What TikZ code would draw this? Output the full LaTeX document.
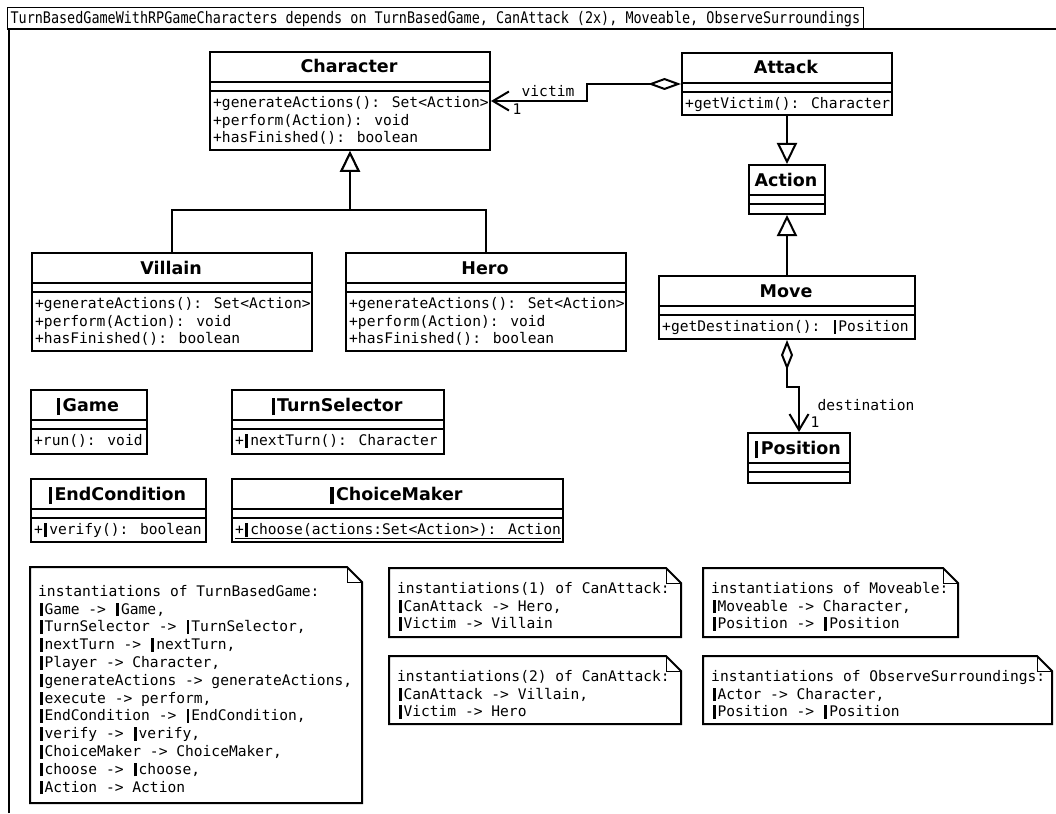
\documentclass[tikz,border=0pt]{standalone}
\usepackage{fontspec}
\setmainfont{DejaVu Sans}
\newfontfamily\monofont{DejaVu Sans Mono}
\newfontfamily\headmono[FakeStretch=0.84]{DejaVu Sans Mono}
\usetikzlibrary{arrows.meta}

% thick parameter marks in front of template names
\newcommand\parmark{\kern1.5pt\rule[-2pt]{2.8pt}{13.5pt}\kern2pt}
\newcommand\parmarkB{\rule[-4pt]{3.2pt}{17pt}\kern2.5pt}

\tikzset{
  umlbox/.style={draw, line width=2pt, inner sep=0pt, anchor=north west},
  compart/.style={line width=2pt},
  cname/.style={font=\fontsize{17.5}{20}\selectfont\bfseries, anchor=base, inner sep=0pt},
  members/.style={font=\monofont\fontsize{14.6}{17.8}\selectfont, align=left,
    anchor=north west, inner sep=0pt},
  lbl/.style={font=\monofont\fontsize{14.6}{17.8}\selectfont, inner sep=0pt},
  conn/.style={line width=2pt},
  gen/.style={conn, -{Triangle[open, length=21pt, width=20pt, fill=white]}},
  agg/.style={conn, {Diamond[open, length=33pt, width=12pt, fill=white]}-{Straight Barb[length=16pt, width=19pt]}},
  notebox/.style={line width=2pt, line join=miter},
  notefold/.style={line width=1pt},
}

% class box: name, x1, y1, x2, y2, title
\newcommand\umlclass[6]{%
  \node[umlbox, minimum width=#4-#2, minimum height=#5-#3] (#1) at (#2,#3) {};
  \draw[compart] (#2,#3+31) -- (#4,#3+31) (#2,#3+40) -- (#4,#3+40);
  \node[cname] (#1-name) at ({(#2+#4)/2},#3+22) {#6};
}
% operations compartment: name, x1, y1, text
\newcommand\umlops[4]{%
  \node[members] (#1-ops) at (#2+4,#3+45) {#4};
}
% note with folded corner: name, x1, y1, x2, y2, text offset, text
\newcommand\umlnote[7]{%
  \node[inner sep=0pt, anchor=north west, minimum width=#4-#2, minimum height=#5-#3] (#1) at (#2,#3) {};
  \draw[notebox] (#2,#3) -- (#4-15,#3) -- (#4,#3+15) -- (#4,#5) -- (#2,#5) -- cycle;
  \draw[notefold] (#4-15,#3) -- (#4-15,#3+15) -- (#4,#3+15);
  \node[members] (#1-text) at (#2+8,#3+#6) {#7};
}

\begin{document}
\begin{tikzpicture}[x=1pt, y=-1pt]
\fill[white] (0,0) rectangle (1056,813);
\useasboundingbox (0,0) rectangle (1056,813);

% package frame and its tab
\draw[line width=2pt] (9,813) -- (9,29) -- (1056,29);
\node[draw, line width=1.2pt, anchor=north west, inner xsep=3pt, inner ysep=0pt,
  minimum height=22pt, font=\headmono\fontsize{16}{18}\selectfont] (pkgtab) at (7,7)
  {TurnBasedGameWithRPGameCharacters depends on TurnBasedGame, CanAttack (2x), Moveable, ObserveSurroundings};

% classes
\umlclass{character}{209}{51}{489}{149}{Character}
\umlops{character}{209}{51}{+generateActions(): Set<Action>\\+perform(Action): void\\+hasFinished(): boolean}

\umlclass{attack}{681}{52}{891}{114}{Attack}
\umlops{attack}{681}{52}{+getVictim(): Character}

\umlclass{action}{748}{164}{824}{213}{Action}

\umlclass{move}{658}{275}{914}{338}{Move}
\umlops{move}{658}{275}{+getDestination(): \parmark Position}

\umlclass{position}{747}{432}{849}{482}{\parmarkB Position}

\umlclass{villain}{31}{252}{311}{350}{Villain}
\umlops{villain}{31}{252}{+generateActions(): Set<Action>\\+perform(Action): void\\+hasFinished(): boolean}

\umlclass{hero}{345}{252}{625}{350}{Hero}
\umlops{hero}{345}{252}{+generateActions(): Set<Action>\\+perform(Action): void\\+hasFinished(): boolean}

\umlclass{game}{30}{389}{146}{453}{\parmarkB Game}
\umlops{game}{30}{389}{+run(): void}

\umlclass{turnsel}{231}{389}{443}{453}{\parmarkB TurnSelector}
\umlops{turnsel}{231}{389}{+\parmark nextTurn(): Character}

\umlclass{endcond}{30}{478}{205}{541}{\parmarkB EndCondition}
\umlops{endcond}{30}{478}{+\parmark verify(): boolean}

\umlclass{choice}{231}{478}{562}{541}{\parmarkB ChoiceMaker}
\umlops{choice}{231}{478}{\underline{+\parmark choose(actions:Set<Action>): Action}}

% relationships
\draw[gen] (villain.north) -- ++(0,-42) -| (character.south);
\draw[gen] (hero.north) -- ++(0,-42) -| (character.south);
\draw[gen] (attack.south) -- (action.north);
\draw[gen] (move.north) -- (action.south);

\draw[agg] (attack.west) -- ++(-94,0) |- (character.east);
\node[lbl] (victim-role) at (548,91) {victim};
\node[lbl] (victim-mult) at (517,109) {1};

\draw[agg, {Diamond[open, length=30pt, width=12pt, fill=white]}-{Straight Barb[length=16pt, width=19pt]}]
  (move.south) -- ++(0,47) -| (position.north);
\node[lbl] (dest-role) at (866,405) {destination};
\node[lbl] (dest-mult) at (815,422) {1};

% template instantiation notes
\umlnote{noteTBG}{30}{567}{362}{803}{18}{instantiations of TurnBasedGame:\\
\parmark Game -> \parmark Game,\\
\parmark TurnSelector -> \parmark TurnSelector,\\
\parmark nextTurn -> \parmark nextTurn,\\
\parmark Player -> Character,\\
\parmark generateActions -> generateActions,\\
\parmark execute -> perform,\\
\parmark EndCondition -> \parmark EndCondition,\\
\parmark verify -> \parmark verify,\\
\parmark ChoiceMaker -> ChoiceMaker,\\
\parmark choose -> \parmark choose,\\
\parmark Action -> Action}

\umlnote{noteCA1}{389}{568}{681}{637}{14}{instantiations(1) of CanAttack:\\
\parmark CanAttack -> Hero,\\
\parmark Victim -> Villain}

\umlnote{noteCA2}{389}{656}{681}{724}{14}{instantiations(2) of CanAttack:\\
\parmark CanAttack -> Villain,\\
\parmark Victim -> Hero}

\umlnote{noteMov}{703}{568}{958}{637}{14}{instantiations of Moveable:\\
\parmark Moveable -> Character,\\
\parmark Position -> \parmark Position}

\umlnote{noteObs}{703}{656}{1052}{724}{14}{instantiations of ObserveSurroundings:\\
\parmark Actor -> Character,\\
\parmark Position -> \parmark Position}
\end{tikzpicture}
\end{document}
